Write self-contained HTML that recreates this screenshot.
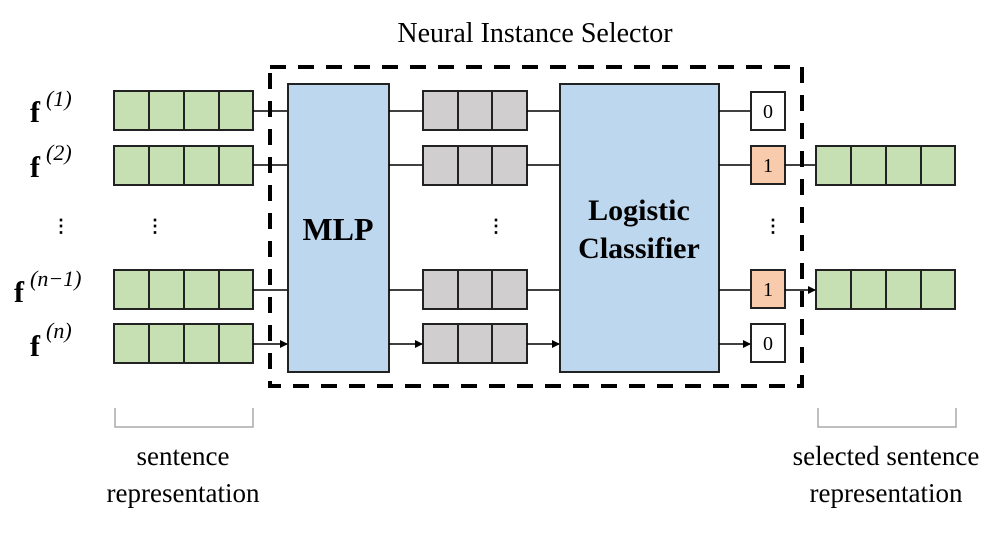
<!DOCTYPE html>
<html><head><style>body{margin:0;background:#fff}</style></head><body>
<svg width="1006" height="533" viewBox="0 0 1006 533" xmlns="http://www.w3.org/2000/svg" font-family="Liberation Serif, serif">
<defs><marker id="a" markerWidth="8" markerHeight="8" refX="7" refY="4" orient="auto" markerUnits="userSpaceOnUse"><path d="M0,0 L8,4 L0,8z" fill="#000"/></marker></defs>
<text x="535" y="42" font-size="28" text-anchor="middle">Neural Instance Selector</text>
<rect x="270" y="67" width="532" height="319" fill="none" stroke="#000" stroke-width="4" stroke-dasharray="16,12"/>
<g stroke="#222" stroke-width="2">
<rect x="288" y="84" width="101" height="288" fill="#bdd7ee"/>
<rect x="560" y="84" width="159" height="288" fill="#bdd7ee"/>
</g>
<text x="338" y="240" font-size="32" font-weight="bold" text-anchor="middle">MLP</text>
<text x="639" y="220" font-size="30" font-weight="bold" text-anchor="middle">Logistic</text>
<text x="639" y="258" font-size="30" font-weight="bold" text-anchor="middle">Classifier</text>
<g stroke="#222" stroke-width="2" fill="#c6e0b4">
<rect x="114" y="91" width="139" height="39"/><rect x="114" y="146" width="139" height="39"/>
<rect x="114" y="270" width="139" height="39"/><rect x="114" y="324" width="139" height="39"/>
<rect x="816" y="146" width="139" height="39"/><rect x="816" y="270" width="139" height="39"/>
<path d="M149,91V130M184,91V130M219,91V130M149,146V185M184,146V185M219,146V185M149,270V309M184,270V309M219,270V309M149,324V363M184,324V363M219,324V363M851,146V185M886,146V185M921,146V185M851,270V309M886,270V309M921,270V309" fill="none"/>
</g>
<g stroke="#222" stroke-width="2" fill="#d0cece">
<rect x="423" y="91" width="104" height="39"/><rect x="423" y="146" width="104" height="39"/>
<rect x="423" y="270" width="104" height="39"/><rect x="423" y="324" width="104" height="39"/>
<path d="M458,91V130M492,91V130M458,146V185M492,146V185M458,270V309M492,270V309M458,324V363M492,324V363" fill="none"/>
</g>
<g stroke="#222" stroke-width="2">
<rect x="751" y="92" width="34" height="38" fill="#fff"/>
<rect x="751" y="146" width="34" height="38" fill="#f8cbad"/>
<rect x="751" y="270" width="34" height="38" fill="#f8cbad"/>
<rect x="751" y="324" width="34" height="38" fill="#fff"/>
</g>
<g font-size="20" text-anchor="middle"><text x="768" y="118">0</text><text x="768" y="172">1</text><text x="768" y="296">1</text><text x="768" y="350">0</text></g>
<g stroke="#000" stroke-width="1.5" marker-end="url(#a)">
<path d="M253,111H287M253,165H287M253,290H287M253,344H287"/>
<path d="M389,111H422M389,165H422M389,290H422M389,344H422"/>
<path d="M527,111H559M527,165H559M527,290H559M527,344H559"/>
<path d="M719,111H750M719,165H750M719,290H750M719,344H750"/>
<path d="M785,165H815M785,290H815"/>
</g>
<g font-size="18" font-weight="bold" fill="#000">
<text x="52" y="232">⋮</text><text x="146" y="232">⋮</text><text x="487" y="232">⋮</text><text x="764" y="232">⋮</text>
</g>
<g font-size="30" font-weight="bold"><text x="30" y="122">f</text><text x="30" y="177">f</text><text x="14" y="302">f</text><text x="30" y="356">f</text></g>
<g font-size="22" font-style="italic"><text x="46" y="106">(1)</text><text x="46" y="160">(2)</text><text x="30" y="286">(n−1)</text><text x="46" y="338">(n)</text></g>
<g fill="none" stroke="#aaa" stroke-width="1.5">
<path d="M115,408V427H253V408"/><path d="M818,408V427H956V408"/>
</g>
<g font-size="27" text-anchor="middle">
<text x="183" y="465">sentence</text><text x="183" y="502">representation</text>
<text x="886" y="465">selected sentence</text><text x="886" y="502">representation</text>
</g>
</svg>
</body></html>
